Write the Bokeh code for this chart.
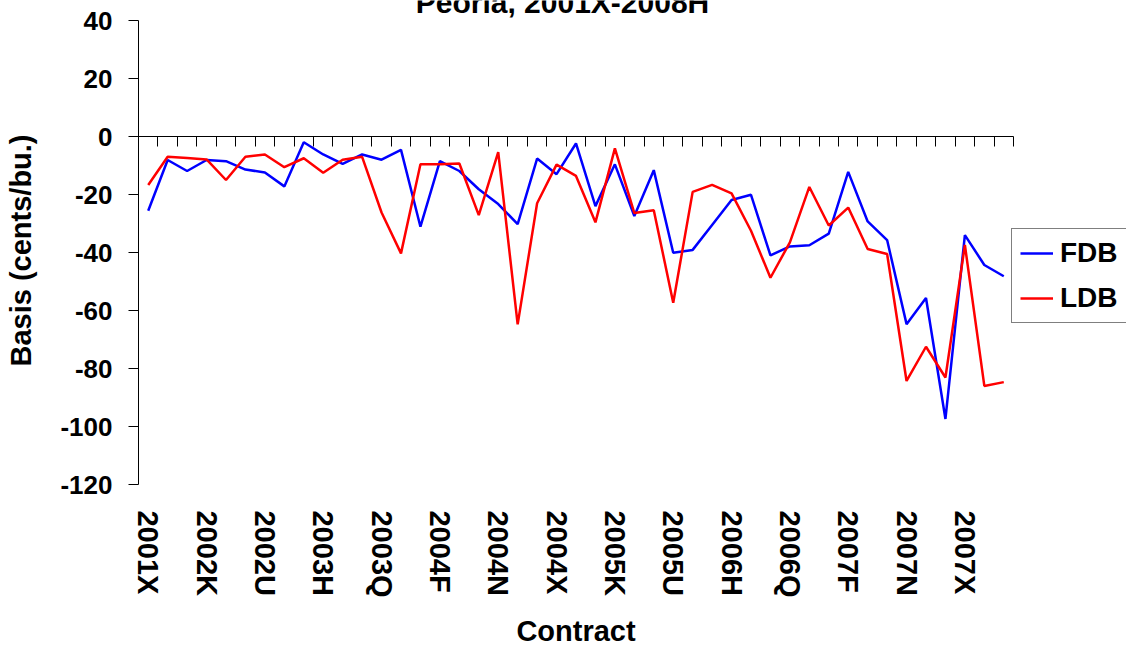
import math
from bokeh.plotting import figure
from bokeh.models import (Range1d, FixedTicker, LinearAxis, Legend, LegendItem,
                          Label, ColumnDataSource)
from bokeh.embed import file_html
from bokeh.resources import INLINE

# ---------------- data ----------------
contracts = [
    "2001X",
    "2002F", "2002H", "2002K", "2002N", "2002Q", "2002U", "2002X",
    "2003F", "2003H", "2003K", "2003N", "2003Q", "2003U", "2003X",
    "2004F", "2004H", "2004K", "2004N", "2004Q", "2004U", "2004X",
    "2005F", "2005H", "2005K", "2005N", "2005Q", "2005U", "2005X",
    "2006F", "2006H", "2006K", "2006N", "2006Q", "2006U", "2006X",
    "2007F", "2007H", "2007K", "2007N", "2007Q", "2007U", "2007X",
    "2008F", "2008H",
]
fdb = [-25.6, -8.1, -11.9, -8.1, -8.5, -11.4, -12.4, -17.2, -2.0, -6.2,
       -9.4, -6.2, -8.0, -4.6, -31.1, -8.5, -11.9, -18.2, -23.3, -30.2,
       -7.6, -13.0, -2.4, -24.0, -9.6, -27.4, -11.6, -40.1, -39.1, -30.5,
       -21.9, -20.1, -41.0, -37.9, -37.5, -33.5, -12.2, -29.3, -35.7, -64.7,
       -55.7, -97.4, -34.0, -44.3, -48.2]
ldb = [-16.7, -7.0, -7.4, -7.9, -15.0, -7.0, -6.2, -10.6, -7.5, -12.5,
       -8.0, -7.0, -26.2, -40.3, -9.6, -9.6, -9.3, -27.1, -5.4, -64.8,
       -23.0, -9.7, -13.6, -29.6, -4.1, -26.4, -25.4, -57.3, -19.1, -16.7,
       -19.6, -32.5, -48.7, -36.5, -17.4, -30.7, -24.5, -38.8, -40.5, -84.3,
       -72.5, -83.1, -37.4, -86.0, -84.7]
series_names = ["FDB", "LDB"]
y_ticks = [-120, -100, -80, -60, -40, -20, 0, 20, 40]
y_tick_labels = ["-120", "-100", "-80", "-60", "-40", "-20", "0", "20", "40"]
label_step = 3
title_text = "Peoria, 2001X-2008H"
x_title = "Contract"
y_title = "Basis (cents/bu.)"

# ---------------- layout / style ----------------
FONT = "Liberation Sans"
W, H = 1126, 649
PLOT_LEFT = 138     # px from canvas left to the value axis
PLOT_TOP = 20       # px from canvas top to the 40 level
PLOT_H = 464        # px between 40 and -120
PLOT_W = 875        # px width of the category area
n = len(contracts)
px_per_x = PLOT_W / n
px_per_y = PLOT_H / (y_ticks[-1] - y_ticks[0])


def sx(px):   # canvas pixel -> x data
    return -0.5 + (px - PLOT_LEFT) / px_per_x


def sy(px):   # canvas pixel -> y data
    return y_ticks[-1] - (px - PLOT_TOP) / px_per_y


xs = list(range(n))
src = ColumnDataSource(data=dict(x=xs, fdb=fdb, ldb=ldb))

p = figure(width=W, height=H, output_backend="svg", toolbar_location=None,
           x_range=Range1d(sx(0), sx(W)),
           y_range=Range1d(sy(H), sy(0)),
           x_axis_location=None, y_axis_location=None,
           min_border_left=0, min_border_right=0,
           min_border_top=0, min_border_bottom=0,
           outline_line_color=None, background_fill_color="white",
           border_fill_color="white")
p.xgrid.grid_line_color = None
p.ygrid.grid_line_color = None

# value axis at the left edge of the category area
yaxis = LinearAxis(
    fixed_location=-0.5, bounds=(y_ticks[0], y_ticks[-1]),
    ticker=FixedTicker(ticks=y_ticks),
    major_label_overrides={t: s for t, s in zip(y_ticks, y_tick_labels)},
    major_label_text_font=FONT, major_label_text_font_style="bold",
    major_label_text_font_size="26px", major_label_text_color="black",
    major_label_standoff=16, major_tick_out=10, major_tick_in=0,
    minor_tick_out=0, minor_tick_in=0,
    axis_line_color="black", major_tick_line_color="black")
p.add_layout(yaxis, "left")

# category labels hanging from the bottom of the plot area
label_ticks = xs[::label_step]
xaxis = LinearAxis(
    fixed_location=y_ticks[0],
    ticker=FixedTicker(ticks=label_ticks),
    major_label_overrides={i: contracts[i] for i in label_ticks},
    major_label_orientation="vertical", major_label_standoff=26,
    major_label_text_font=FONT, major_label_text_font_style="bold",
    major_label_text_font_size="29px", major_label_text_color="black",
    major_tick_out=0, major_tick_in=0, minor_tick_out=0, minor_tick_in=0,
    axis_line_color=None, major_tick_line_color=None)
p.add_layout(xaxis, "below")

# category axis crossing at zero, tick marks between categories
bounds = [i - 0.5 for i in range(n + 1)]
zero_axis = LinearAxis(
    fixed_location=0, bounds=(bounds[0], bounds[-1]),
    ticker=FixedTicker(ticks=bounds),
    major_label_overrides={b: "" for b in bounds},
    major_tick_out=10, major_tick_in=0, minor_tick_out=0, minor_tick_in=0,
    axis_line_color="black", major_tick_line_color="black")
p.add_layout(zero_axis, "below")

r_fdb = p.line("x", "fdb", source=src, line_color="#0000FF", line_width=2.5)
r_ldb = p.line("x", "ldb", source=src, line_color="#FF0000", line_width=2.5)

legend = Legend(
    items=[LegendItem(label=series_names[0], renderers=[r_fdb]),
           LegendItem(label=series_names[1], renderers=[r_ldb])],
    location=(1011, H - 323), orientation="vertical",
    label_text_font=FONT, label_text_font_style="bold",
    label_text_font_size="28px", label_text_color="black",
    glyph_width=33, glyph_height=20, label_standoff=7,
    padding=8, spacing=13, margin=0,
    border_line_color="black", border_line_width=1,
    background_fill_color="white", background_fill_alpha=1.0)
p.add_layout(legend, "center")

text_style = dict(text_font=FONT, text_font_style="bold", text_color="black",
                  text_align="center", text_baseline="middle")

# value-axis title
p.add_layout(Label(x=sx(20), y=sy(250), text=y_title, angle=math.pi / 2,
                   text_font_size="29px", **text_style))

# category-axis title
p.add_layout(Label(x=(n - 1) / 2, y=sy(630), text=x_title,
                   text_font_size="29px", **text_style))

# chart title (partly above the visible page, as in the original)
p.add_layout(Label(x=sx(W / 2 - 1), y=sy(2), text=title_text,
                   text_font_size="30px", **text_style))

open("out.html", "w").write(file_html(p, INLINE))
